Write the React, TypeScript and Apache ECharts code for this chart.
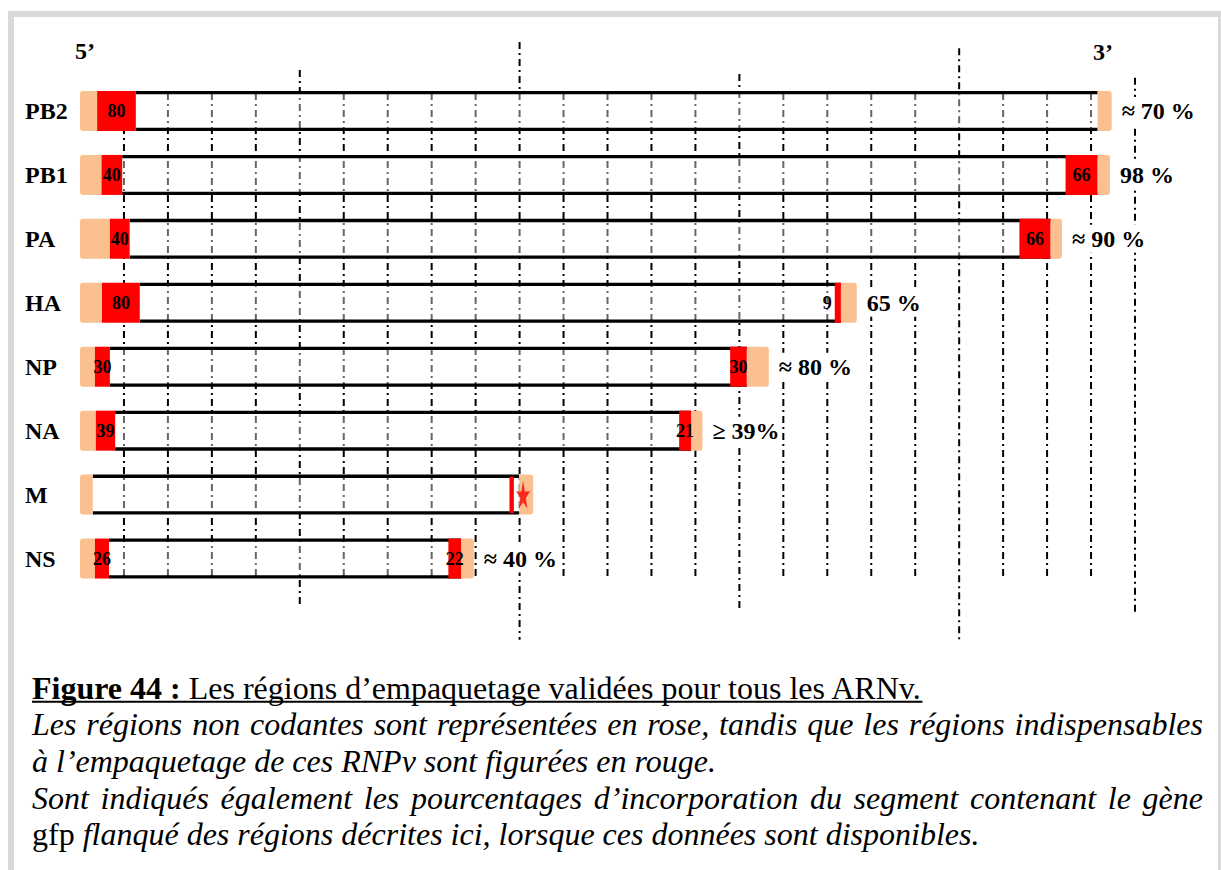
import React, { useEffect, useRef } from "react";
import * as echarts from "echarts";

// ---- data (nucleotide positions) ----
const segmentNames = ["PB2", "PB1", "PA", "HA", "NP", "NA", "M", "NS"];
const leftNoncodingEnd = [39, 49, 68, 50, 34, 36, 29, 34];
const leftPackagingEnd = [127, 96, 113, 136, 68, 80, 29, 66];
const rightPackagingStart = [2315, 2242, 2137, 1717, 1479, 1363, 977, 838];
const rightPackagingEnd = [2315, 2315, 2208, 1731, 1517, 1390, 987, 867];
const rightNoncodingStart = [2315, 2315, 2208, 1731, 1517, 1390, 999, 867];
const segmentLength = [2347, 2343, 2234, 1767, 1567, 1416, 1031, 896];
const leftPackagingLabel = ["80", "40", "40", "80", "30", "39", "", "26"];
const rightPackagingLabel = ["", "66", "66", "9", "30", "21", "", "22"];
const incorporation = ["≈ 70 %", "98 %", "≈ 90 %", "65 %", "≈ 80 %", "≥ 39%", "", "≈ 40 %"];
const starMarks = [[1008, 6]];

// scale ticks every 100 nt with their vertical extents (in row units)
const scaleTicks = [100, 200, 300, 400, 500, 600, 700, 800, 900, 1000, 1100, 1200, 1300, 1400, 1500, 1600, 1700, 1800, 1900, 2000, 2100, 2200, 2300, 2400];
const tickTop = [-0.28, -0.28, -0.28, -0.28, -0.64, -0.28, -0.28, -0.28, -0.28, -1.08, -0.28, -0.28, -0.28, -0.28, -0.58, -0.28, -0.28, -0.28, -0.28, -0.98, -0.28, -0.28, -0.28, -0.52];
const tickBottom = [7.3, 7.3, 7.3, 7.3, 7.73, 7.3, 7.3, 7.3, 7.3, 8.27, 7.3, 7.3, 7.3, 7.3, 7.8, 7.3, 7.3, 7.3, 7.3, 8.32, 7.3, 7.3, 7.3, 7.85];

const endLabels = ["5’", "3’"];
const captionBold = "Figure 44 :";
const captionTitle = " Les régions d’empaquetage validées pour tous les ARNv.";
const captionLines = [
  "Les régions non codantes sont représentées en rose, tandis que les régions indispensables",
  "à l’empaquetage de ces RNPv sont figurées en rouge.",
  "Sont indiqués également les pourcentages d’incorporation du segment contenant le gène",
  " flanqué des régions décrites ici, lorsque ces données sont disponibles.",
];
const captionGene = "gfp";

const PINK = "#FAC090";
const RED = "#FF0000";
const FONT = "Liberation Serif";
const STAR = "path://M50,0 L61.8,35.1 L97.6,34.5 L68.8,56.2 L79.4,90.5 L50,69.8 L20.6,90.5 L31.2,56.2 L2.4,34.5 L38.2,35.1 Z";

export default function App() {
  const ref = useRef<HTMLDivElement>(null);
  useEffect(() => {
    if (!ref.current) return;
    const chart = echarts.init(ref.current, null, { renderer: "svg" });
    const ctx = document.createElement("canvas").getContext("2d") as CanvasRenderingContext2D;
    const measure = (text: string, size: number, bold: boolean, italic: boolean) => {
      ctx.font = `${italic ? "italic " : ""}${bold ? "bold " : ""}${size}px '${FONT}'`;
      return ctx.measureText(text).width;
    };

    const capX = 32;
    const capRight = 1203;
    const capSize = 32;
    const lineMid = [687.5, 724.2, 761, 797.5, 834.2];
    const txt = (text: string, x: number, y: number, size: number, bold: boolean, italic: boolean) => ({
      type: "text",
      x,
      y,
      silent: true,
      style: {
        text,
        fill: "#000",
        fontFamily: FONT,
        fontSize: size,
        fontWeight: bold ? "bold" : "normal",
        fontStyle: italic ? "italic" : "normal",
        align: "left",
        verticalAlign: "middle",
      },
    });

    const graphics: any[] = [];
    // frame
    graphics.push({
      type: "rect",
      shape: { x: 11, y: 14, width: 1210, height: 900 },
      style: { fill: "none", stroke: "#d9d9d9", lineWidth: 6 },
      silent: true,
      z: -10,
    });
    graphics.push(txt(endLabels[0], 75, 51, 24, true, false));
    graphics.push(txt(endLabels[1], 1093, 52, 24, true, false));

    // caption line 1
    const wBold = measure(captionBold, capSize, true, false);
    const wTitle = measure(captionTitle, capSize, false, false);
    graphics.push(txt(captionBold, capX, lineMid[0], capSize, true, false));
    graphics.push(txt(captionTitle, capX + wBold, lineMid[0], capSize, false, false));
    graphics.push({
      type: "rect",
      shape: { x: capX, y: 700.8, width: wBold + wTitle, height: 2 },
      style: { fill: "#000" },
      silent: true,
    });
    // justified lines
    const justify = (line: string, y: number) => {
      const words = line.split(" ");
      const widths = words.map((w) => measure(w, capSize, false, true));
      const total = widths.reduce((s, v) => s + v, 0);
      const gap = (capRight - capX - total) / (words.length - 1);
      let x = capX;
      words.forEach((w, k) => {
        graphics.push(txt(w, x, y, capSize, false, true));
        x += widths[k] + gap;
      });
    };
    justify(captionLines[0], lineMid[1]);
    graphics.push(txt(captionLines[1], capX, lineMid[2], capSize, false, true));
    justify(captionLines[2], lineMid[3]);
    const wGene = measure(captionGene, capSize, false, false);
    graphics.push(txt(captionGene, capX, lineMid[4], capSize, false, false));
    graphics.push(txt(captionLines[3], capX + wGene, lineMid[4], capSize, false, true));

    const option: any = {
      animation: false,
      backgroundColor: "#fff",
      grid: { left: 80, right: 86, top: 15.1, bottom: 183.6 },
      xAxis: { type: "value", min: 0, max: 2400, show: false },
      yAxis: { type: "value", min: -1.5, max: 9, inverse: true, show: false },
      graphic: graphics,
      series: [
        {
          type: "custom",
          z: 1,
          silent: true,
          data: scaleTicks.map((t, i) => [t, tickTop[i], tickBottom[i]]),
          renderItem: (params: any, api: any) => {
            const p1 = api.coord([api.value(0), api.value(1)]);
            const p2 = api.coord([api.value(0), api.value(2)]);
            return {
              type: "line",
              shape: { x1: p1[0], y1: p1[1], x2: p2[0], y2: p2[1] },
              style: { stroke: "#000", lineWidth: 2, lineDash: [7, 4, 2, 4], lineCap: "butt" },
            };
          },
        },
        {
          type: "custom",
          z: 2,
          silent: true,
          data: segmentNames.map((n, i) => [i]),
          renderItem: (params: any, api: any) => {
            const i = params.dataIndex;
            const X = (nt: number) => api.coord([nt, i])[0];
            const yc = api.coord([0, i])[1];
            const x0 = X(0);
            const a = X(leftNoncodingEnd[i]);
            const b = X(leftPackagingEnd[i]);
            const c = X(rightPackagingStart[i]);
            const c2 = X(rightPackagingEnd[i]);
            const d = X(rightNoncodingStart[i]);
            const e = X(segmentLength[i]);
            const ch: any[] = [];
            ch.push({ type: "rect", shape: { x: b, y: yc - 17, width: d - b, height: 34 }, style: { fill: "rgba(255,255,255,0.4)" } });
            ch.push({ type: "rect", shape: { x: b, y: yc - 20, width: d - b, height: 3.3 }, style: { fill: "#000" } });
            ch.push({ type: "rect", shape: { x: b, y: yc + 16.7, width: d - b, height: 3.3 }, style: { fill: "#000" } });
            ch.push({ type: "rect", shape: { x: x0, y: yc - 20, width: a - x0, height: 40, r: [3, 0, 0, 3] }, style: { fill: PINK } });
            if (b > a) ch.push({ type: "rect", shape: { x: a, y: yc - 20, width: b - a, height: 40 }, style: { fill: RED } });
            if (c2 > c) {
              const thin = c2 - c < 8 && !rightPackagingLabel[i];
              ch.push({
                type: "rect",
                shape: { x: c, y: thin ? yc - 18 : yc - 20, width: c2 - c, height: thin ? 36.6 : 40 },
                style: { fill: RED },
              });
            }
            ch.push({ type: "rect", shape: { x: d, y: yc - 20, width: e - d, height: 40, r: [0, 3, 3, 0] }, style: { fill: PINK } });
            const lab = (text: string, x: number, align: string, size: number, bg?: boolean) => ({
              type: "text",
              x,
              y: yc,
              style: {
                text,
                fill: "#000",
                fontFamily: FONT,
                fontWeight: "bold",
                fontSize: size,
                align,
                verticalAlign: "middle",
                backgroundColor: bg ? "#fff" : undefined,
                padding: bg ? [2, 2, 2, 2] : undefined,
              },
            });
            if (leftPackagingLabel[i]) ch.push(lab(leftPackagingLabel[i], (a + b) / 2, "center", 18));
            if (rightPackagingLabel[i]) {
              if (c2 - c >= 10) ch.push(lab(rightPackagingLabel[i], (c + c2) / 2, "center", 18));
              else ch.push(lab(rightPackagingLabel[i], c - 3, "right", 18));
            }
            if (incorporation[i]) ch.push(lab(incorporation[i], e + 8, "left", 24, true));
            ch.push(lab(segmentNames[i], 25, "left", 24));
            return { type: "group", children: ch };
          },
        },
        {
          type: "scatter",
          z: 3,
          silent: true,
          symbol: STAR,
          symbolSize: [14, 28],
          itemStyle: { color: RED },
          data: starMarks,
        },
      ],
    };
    chart.setOption(option);
    return () => chart.dispose();
  }, []);
  return (
    <div
      ref={ref}
      style={{ position: "fixed", left: 0, top: 0, width: 1221, height: 870, background: "#fff" }}
    />
  );
}
